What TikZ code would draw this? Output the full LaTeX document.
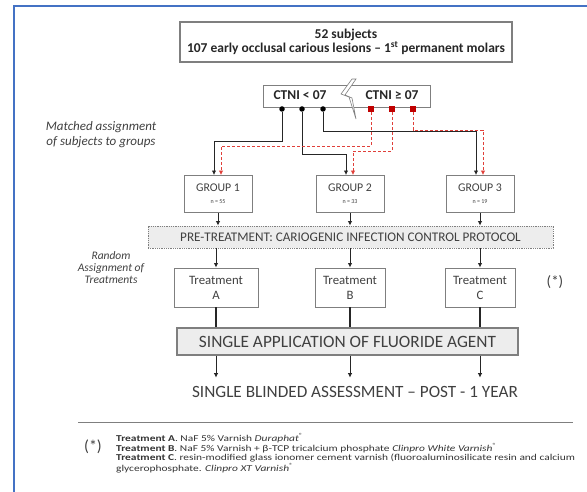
\documentclass[tikz,border=0pt]{standalone}
\usepackage{fontspec}
\setmainfont{Carlito}
\newfontfamily\notefont{Carlito}[FakeStretch=1.27]
\usepackage{tikz}
\usetikzlibrary{arrows.meta,positioning,calc}
\definecolor{frameblue}{HTML}{4472C4}
\definecolor{boxgrey}{HTML}{7F7F7F}
\definecolor{textgrey}{HTML}{404040}
\definecolor{fillgrey}{HTML}{EDEDED}
\definecolor{darkred}{HTML}{C00000}
\definecolor{dashred}{HTML}{E0403A}

\begin{document}
\begin{tikzpicture}[x=1pt,y=-1pt,
  greybox/.style={draw=boxgrey,line width=0.9pt,align=center,text=textgrey,inner sep=1pt},
  groupbox/.style={greybox,minimum width=68,minimum height=37,font=\fontsize{11.8}{12}\selectfont},
  treatbox/.style={greybox,minimum width=70,minimum height=39,font=\fontsize{12.8}{15}\selectfont},
  dot/.style={circle,fill=black,inner sep=0pt,minimum size=5.5pt},
  redsq/.style={rectangle,fill=darkred,inner sep=0pt,minimum size=6.5pt},
  blkarrow/.style={black!85,line width=1pt,-{Latex[length=4.5pt,width=4.5pt]}},
  redarrow/.style={dashred,line width=0.8pt,densely dashed,-{Latex[length=4.5pt,width=4.5pt]}},
  sidelabel/.style={align=center,text=textgrey,font=\itshape}]
\useasboundingbox (0,0) rectangle (587,492);
\draw[frameblue,line width=1.2pt] (14,492) -- (14,6) -- (587,6);

% sample
\node[greybox,line width=1.2pt,minimum width=332,minimum height=40,text=black!85,
  font=\fontsize{13.5}{13.5}\selectfont\bfseries] (sample) at (346,42)
  {52 subjects\\107 early occlusal carious lesions -- 1\textsuperscript{st} permanent molars};

% CTNI split
\node[greybox,minimum width=167,minimum height=22] (ctni) at (346.5,96) {};
\node[text=black!85,font=\fontsize{13.5}{14}\selectfont\bfseries] (low) at (300,95) {CTNI < 07};
\node[text=black!85,font=\fontsize{13.5}{14}\selectfont\bfseries] (high) at (392,95) {CTNI ≥ 07};
\filldraw[fill=white,draw=boxgrey,line width=0.6pt] (352,79) -- (341,94) -- (349,97) -- (356,119)
  -- (352,98) -- (345,95) -- (356,79) -- cycle;
\foreach \x/\n in {282/b1,302/b2,323/b3} \node[dot] (\n) at (\x,109) {};
\foreach \x/\n in {371/r1,392/r2,413/r3} \node[redsq] (\n) at (\x,109) {};

% groups
\node[groupbox] (g1) at (218,194) {GROUP 1\\[0pt]{\fontsize{6}{7}\selectfont n = 55}};
\node[groupbox] (g2) at (350,194) {GROUP 2\\[0pt]{\fontsize{6}{7}\selectfont n = 33}};
\node[groupbox] (g3) at (480,194) {GROUP 3\\[0pt]{\fontsize{6}{7}\selectfont n = 19}};

\draw[blkarrow] (b1) -- ++(0,33) -| ([xshift=-4pt]g1.north);
\draw[blkarrow] (b2) -- ++(0,46) -| ([xshift=-4pt]g2.north);
\draw[blkarrow] (b3) -- ++(0,23) -| ([xshift=-4pt]g3.north);
\draw[redarrow] (r1) -- ++(0,37) -| ([xshift=3pt]g1.north);
\draw[redarrow] (r2) -- ++(0,42) -| ([xshift=3pt]g2.north);
\draw[redarrow] (r3) -- ++(0,21) -| ([xshift=3pt]g3.north);

\node[sidelabel,font=\fontsize{13}{15}\selectfont\itshape] (matched) at (101,135)
  {Matched assignment\\of subjects to groups};

% pre-treatment
\node[draw=boxgrey,densely dotted,line width=0.8pt,fill=fillgrey,minimum width=405,minimum height=22,
  text=textgrey,font=\fontsize{13.2}{14}\selectfont] (pre) at (350.5,237)
  {PRE-TREATMENT: CARIOGENIC INFECTION CONTROL PROTOCOL};
\foreach \i in {1,2,3} \draw[blkarrow] (g\i.south) -- (g\i.south |- pre.north);

% treatments
\node[treatbox,minimum width=84] (tA) at (216,287.5) {Treatment\\A};
\node[treatbox] (tB) at (350,287.5) {Treatment\\B};
\node[treatbox] (tC) at (480,287.5) {Treatment\\C};
\foreach \t in {tA,tB,tC} \draw[blkarrow] (pre.south -| \t) -- (\t.north);
\node[sidelabel,font=\fontsize{11.5}{12}\selectfont\itshape] (random) at (111,268)
  {Random\\Assignment of\\Treatments};
\node[text=textgrey,font=\fontsize{15}{17}\selectfont] (star) at (555,282) {(*)};

% fluoride
\node[draw=boxgrey,line width=1.3pt,fill=fillgrey,minimum width=341,minimum height=27,
  text=textgrey,font=\fontsize{17.3}{18}\selectfont] (fluor) at (347.5,341.5)
  {SINGLE APPLICATION OF FLUORIDE AGENT};
\foreach \t in {tA,tB,tC} \draw[black!85,line width=1.3pt] (\t.south) -- (\t.south |- fluor.north);
\foreach \t in {tA,tB,tC} \draw[blkarrow] (fluor.south -| \t) -- ++(0,22);
\node[text=textgrey,font=\fontsize{17.2}{18}\selectfont] (assess) at (355,392)
  {SINGLE BLINDED ASSESSMENT -- POST - 1 YEAR};

% footnote
\draw[boxgrey,line width=0.8pt] (78,422) -- (573,422);
\node[text=textgrey,font=\fontsize{16}{18}\selectfont] (fnstar) at (93,447) {(*)};
\node[anchor=north west,align=left,inner sep=0pt,text=black!80,font=\notefont\fontsize{9}{9}\selectfont] (notes) at (116,433)
  {\textbf{Treatment A}. NaF 5\% Varnish \textit{Duraphat}\textsuperscript{®}\\
   \textbf{Treatment B}. NaF 5\% Varnish + β-TCP tricalcium phosphate \textit{Clinpro White Varnish}\textsuperscript{®}\\
   \textbf{Treatment C}. resin-modified glass ionomer cement varnish (fluoroaluminosilicate resin and calcium\\
   glycerophosphate. \textit{Clinpro XT Varnish}\textsuperscript{®}};
\end{tikzpicture}
\end{document}
